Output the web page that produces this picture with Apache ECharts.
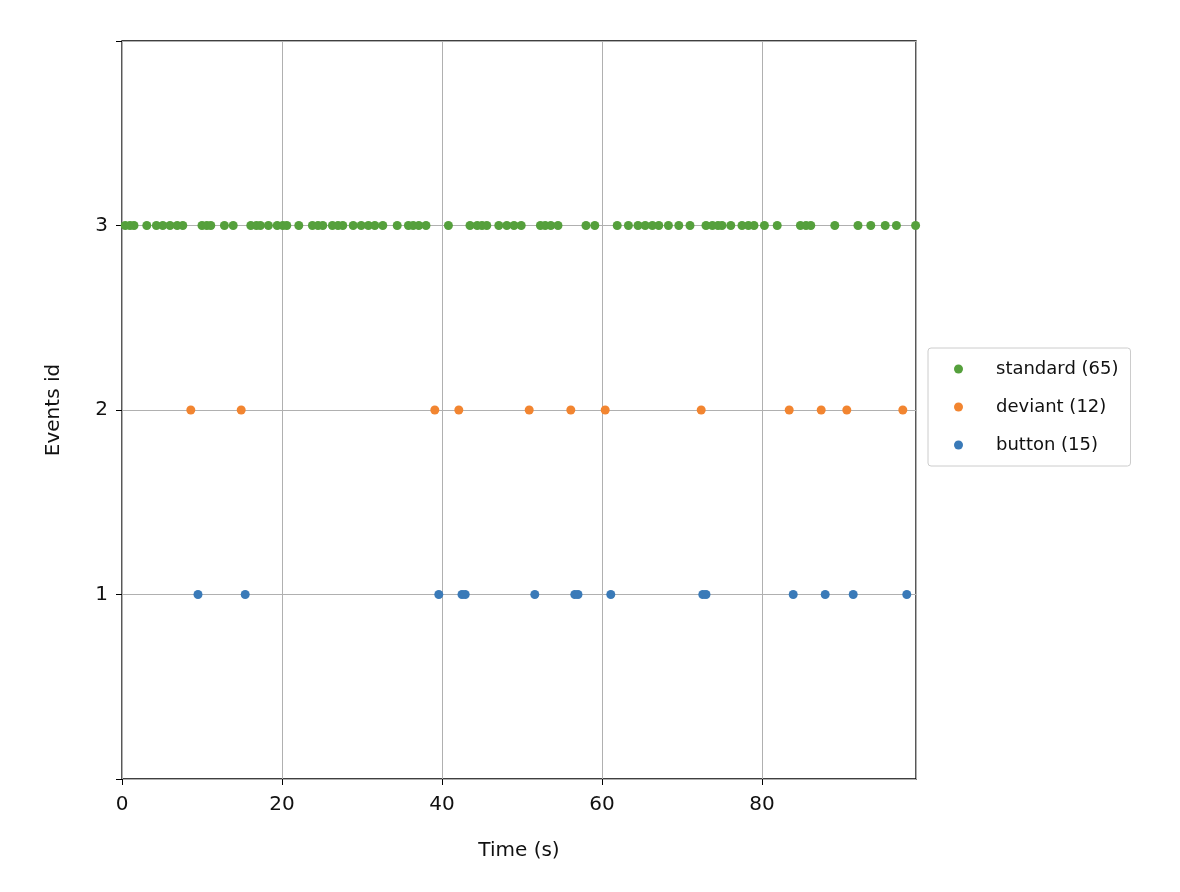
<!DOCTYPE html>
<html><head><meta charset="utf-8">
<script src="https://cdn.jsdelivr.net/npm/echarts@6/dist/echarts.min.js"></script>
<style>html,body{margin:0;background:#fff}#c{width:1180px;height:892px}</style>
</head><body><div id="c"></div>
<script>
const standardTimes=[0.4,1.0,1.5,3.1,4.3,5.1,6.0,6.9,7.6,10.0,10.6,11.1,12.8,13.9,16.1,16.8,17.3,18.3,19.4,20.1,20.6,22.1,23.8,24.5,25.1,26.3,27.0,27.6,28.9,29.9,30.8,31.6,32.6,34.4,35.8,36.4,37.1,38.0,40.8,43.5,44.4,45.0,45.6,47.1,48.1,49.0,49.9,52.3,52.9,53.6,54.5,58.0,59.1,61.9,63.3,64.5,65.4,66.3,67.1,68.3,69.6,71.0,73.0,73.8,74.5,75.0,76.1,77.5,78.3,79.0,80.3,81.9,84.8,85.5,86.1,89.1,92.0,93.6,95.4,96.8,99.2];
const deviantTimes=[8.6,14.9,39.1,42.1,50.9,56.1,60.4,72.4,83.4,87.4,90.6,97.6];
const buttonTimes=[9.5,15.4,39.6,42.5,42.9,51.6,56.6,57.0,61.1,72.6,73.0,83.9,87.9,91.4,98.1];
const names=['standard (65)','deviant (12)','button (15)'];
const ids=[3,2,1];
const colors=['#55a03c','#f28530','#3a7ab8'];
const F='DejaVu Sans';
const series=[standardTimes,deviantTimes,buttonTimes].map((t,i)=>({
 name:names[i],type:'scatter',symbolSize:9,itemStyle:{color:colors[i],opacity:1},clip:false,
 data:t.map(x=>[x,ids[i]])}));
const ch=echarts.init(document.getElementById('c'));
ch.setOption({
 animation:false,
 grid:{left:122,right:264,top:41,bottom:113,show:true,borderColor:'#000',borderWidth:1.3},
 legend:{orient:'vertical',left:928,top:348,data:names,icon:'circle',itemWidth:9,itemHeight:9,itemGap:20,
  padding:[12,12,12,26],borderColor:'#ccc',borderWidth:1,borderRadius:3,
  textStyle:{fontFamily:F,fontSize:18,color:'#111',padding:[0,0,0,28]}},
 xAxis:{type:'value',min:0,max:99.25,interval:20,name:'Time (s)',nameLocation:'middle',nameGap:62,
  nameTextStyle:{fontFamily:F,fontSize:20,color:'#111'},
  axisLine:{show:false},axisTick:{show:true,length:6,lineStyle:{color:'#000'}},
  axisLabel:{fontFamily:F,fontSize:20,color:'#111',margin:16,showMaxLabel:false},
  splitLine:{show:true,lineStyle:{color:'#b0b0b0',width:1}}},
 yAxis:{type:'value',min:0,max:4,interval:1,name:'Events id',nameLocation:'middle',nameGap:58,
  nameTextStyle:{fontFamily:F,fontSize:20,color:'#111'},
  axisLine:{show:false},axisTick:{show:true,length:6,lineStyle:{color:'#000'}},
  axisLabel:{fontFamily:F,fontSize:20,color:'#111',margin:14,formatter:v=>(v>=1&&v<=3)?String(v):''},
  splitLine:{show:true,lineStyle:{color:'#b0b0b0',width:1}}},
 series:series
});
</script></body></html>
